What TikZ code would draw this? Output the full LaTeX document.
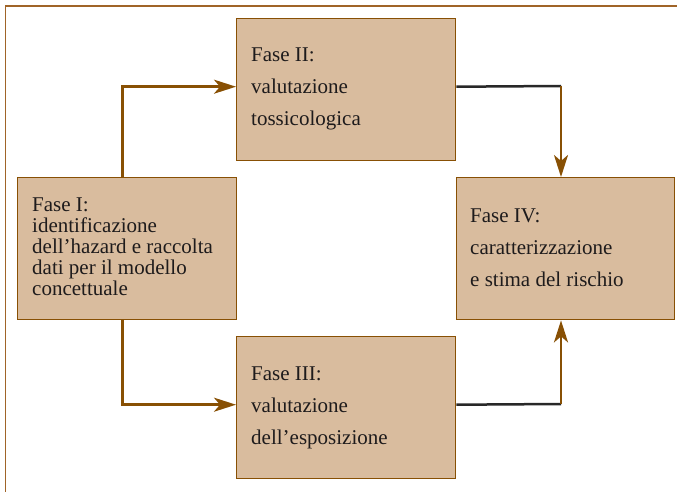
\documentclass[tikz,border=0pt]{standalone}
\usepackage{fontspec}
\setmainfont{Liberation Serif}
\usetikzlibrary{arrows.meta,calc}
\definecolor{boxfill}{RGB}{217,188,158}
\definecolor{brownline}{RGB}{136,80,4}
\definecolor{darkline}{RGB}{40,40,40}
\definecolor{inktext}{RGB}{30,27,28}
\definecolor{framecol}{RGB}{160,100,40}
\begin{document}
\begin{tikzpicture}[x=1pt,y=-1pt,
  phase/.style={draw=brownline, line width=1.4pt, fill=boxfill, rectangle,
    anchor=north west, inner sep=0pt, minimum width=219pt, minimum height=142pt},
  phasetext/.style={anchor=base west, inner sep=0pt, text=inktext},
  flow/.style={draw=brownline, line width=2.5pt,
    -{Stealth[length=22pt,width=14pt,inset=6pt]}},
  handoff/.style={draw=darkline, line width=2.5pt}]
\useasboundingbox (0,0) rectangle (677,492);

% page frame (top and left rules)
\draw[framecol, line width=1.2pt] (5.5,492) -- (5.5,6) -- (677,6);

% the four phases
\node[phase] (f1) at (17,177) {};
\node[phase] (f2) at (236,18) {};
\node[phase] (f3) at (236,336) {};
\node[phase, minimum width=218pt] (f4) at (456,177) {};

\node[phasetext, font=\fontsize{21}{21}\selectfont] (t1)
  at ([shift={(15,34)}]f1.north west)
  {\begin{tabular}[t]{@{}l@{}}Fase I:\\identificazione\\dell’hazard e raccolta\\dati per il modello\\concettuale\end{tabular}};
\node[phasetext, font=\fontsize{21}{32}\selectfont] (t2)
  at ([shift={(15,44)}]f2.north west)
  {\begin{tabular}[t]{@{}l@{}}Fase II:\\valutazione\\tossicologica\end{tabular}};
\node[phasetext, font=\fontsize{21}{32}\selectfont] (t3)
  at ([shift={(15,44)}]f3.north west)
  {\begin{tabular}[t]{@{}l@{}}Fase III:\\valutazione\\dell’esposizione\end{tabular}};
\node[phasetext, font=\fontsize{21}{32}\selectfont] (t4)
  at ([shift={(14,45)}]f4.north west)
  {\begin{tabular}[t]{@{}l@{}}Fase IV:\\caratterizzazione\\e stima del rischio\end{tabular}};

% branches out of phase I
\draw[flow] ([xshift=-4.5pt]f1.north) |- ([yshift=3pt]f2.west);
\draw[flow] ([xshift=-4.5pt]f1.south) |- ([yshift=3pt]f3.west);

% phases II and III feed phase IV
\coordinate (c2) at (561,86);
\coordinate (c3) at (561,404);
\draw[handoff] ([yshift=3pt]f2.east) -- (c2);
\draw[flow] (c2) -- (c2 |- f4.north);
\draw[handoff] ([yshift=3pt]f3.east) -- (c3);
\draw[flow] (c3) -- (c3 |- f4.south);
\end{tikzpicture}
\end{document}
